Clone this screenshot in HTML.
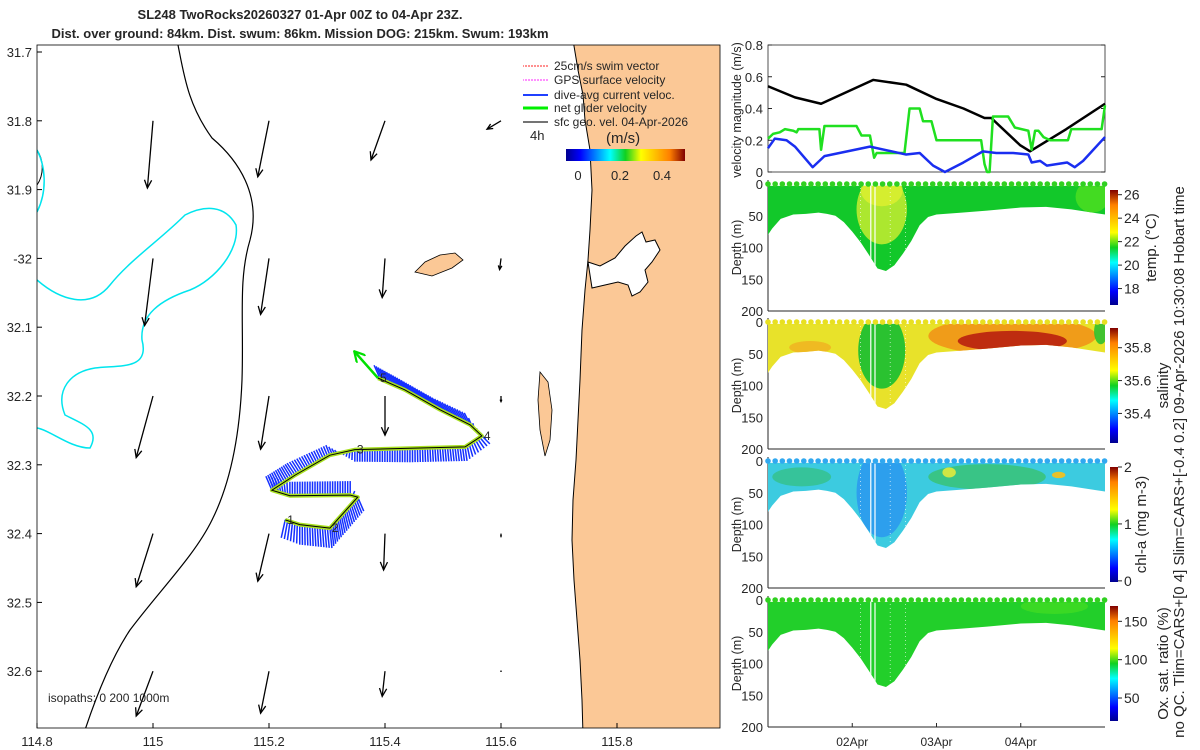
<!DOCTYPE html>
<html><head><meta charset="utf-8"><style>
html,body{margin:0;padding:0;background:#fff}
svg{display:block;font-family:"Liberation Sans",sans-serif}
text{fill:#262626}
</style></head><body>
<svg id="fig" width="1200" height="750" viewBox="0 0 1200 750" xmlns="http://www.w3.org/2000/svg">
<defs>
<linearGradient id="jetV" x1="0" y1="1" x2="0" y2="0">
<stop offset="0" stop-color="#00008f"/><stop offset="0.12" stop-color="#0000ff"/><stop offset="0.37" stop-color="#00ffff"/><stop offset="0.5" stop-color="#10d020"/><stop offset="0.63" stop-color="#ffff00"/><stop offset="0.87" stop-color="#ff8000"/><stop offset="1" stop-color="#800000"/>
</linearGradient>
<linearGradient id="jetH" x1="0" y1="0" x2="1" y2="0">
<stop offset="0" stop-color="#00008f"/><stop offset="0.12" stop-color="#0000ff"/><stop offset="0.37" stop-color="#00ffff"/><stop offset="0.5" stop-color="#10d020"/><stop offset="0.63" stop-color="#ffff00"/><stop offset="0.87" stop-color="#ff8000"/><stop offset="1" stop-color="#800000"/>
</linearGradient>
<clipPath id="mapclip"><rect x="37" y="45" width="683" height="683"/></clipPath>
<marker id="ahG" markerWidth="12" markerHeight="12" refX="10" refY="6" orient="auto" markerUnits="userSpaceOnUse"><path d="M0,0 L11,6 L0,12" fill="none" stroke="#00e000" stroke-width="2.2"/></marker>
</defs>

<text x="300" y="19" text-anchor="middle" font-size="13" font-weight="bold">SL248 TwoRocks20260327 01-Apr 00Z to 04-Apr 23Z.</text>
<text x="300" y="38" text-anchor="middle" font-size="13" font-weight="bold">Dist. over ground: 84km. Dist. swum: 86km. Mission DOG: 215km. Swum: 193km</text>

<g id="map">
<g clip-path="url(#mapclip)" id="mapinner">
<rect x="37" y="45" width="683" height="683" fill="#fff"/>
<polygon fill="#fbc896" stroke="#000" stroke-width="1" points="573,40 578,70 583,95 585,120 590,150 592,190 590,230 588,260 585,290 582,330 580,380 578,420 576,460 573,500 572,540 574,580 577,620 580,660 582,700 583,735 725,735 725,40"/>
<path fill="#fff" stroke="#000" stroke-width="1" d="M588,262 L600,266 L615,258 L625,246 L636,236 L642,232 L646,242 L655,240 L660,250 L652,262 L645,270 L648,282 L640,292 L632,296 L628,285 L618,282 L605,285 L592,288 Z"/>
<polygon fill="#fbc896" stroke="#000" stroke-width="0.8" points="415,272 425,262 440,255 455,253 463,260 452,268 432,276"/>
<polygon fill="#fbc896" stroke="#000" stroke-width="0.8" points="540,372 548,382 552,410 550,440 545,456 540,430 538,400"/>
<path fill="none" stroke="#000" stroke-width="1.2" d="M178,45 C184,75 188,105 212,138 C238,160 262,195 250,240 C238,280 244,320 242,380 C240,430 232,480 212,520 C195,555 160,590 130,630 C110,660 95,700 85,730"/>
<path fill="none" stroke="#000" stroke-width="1" d="M37,150 C44,160 44,175 37,185"/>
<path fill="none" stroke="#00e5ee" stroke-width="1.5" d="M37,150 C45,165 48,190 37,212"/>
<path fill="none" stroke="#00e5ee" stroke-width="1.5" d="M37,280 C60,300 90,310 110,285 C130,260 160,240 185,215 C205,205 225,205 236,225 C240,250 215,280 190,290 C160,300 140,315 142,340 C150,370 120,365 95,368 C70,372 55,390 65,415 C85,425 100,430 90,448 C70,448 50,430 37,428"/>
<g id="gridArrows"></g>
<g id="track"></g>
</g>
<rect x="37" y="45" width="683" height="683" fill="none" stroke="#000" stroke-width="0.8"/>
<g id="mapAxes"></g>
<g font-size="12">
<line x1="548" y1="66" x2="523" y2="66" stroke="#ff2020" stroke-width="1" stroke-dasharray="2,1"/>
<text x="554" y="70">25cm/s swim vector</text>
<line x1="548" y1="80" x2="523" y2="80" stroke="#ff20ff" stroke-width="1" stroke-dasharray="2,1"/>
<text x="554" y="84">GPS surface velocity</text>
<line x1="548" y1="95" x2="523" y2="95" stroke="#2040ff" stroke-width="2"/>
<text x="554" y="99">dive-avg current veloc.</text>
<line x1="548" y1="108" x2="523" y2="108" stroke="#00f000" stroke-width="3"/>
<text x="554" y="112">net glider velocity</text>
<line x1="548" y1="122" x2="523" y2="122" stroke="#202020" stroke-width="1.3"/>
<text x="554" y="126">sfc geo. vel. 04-Apr-2026</text>
<text x="530" y="140" font-size="13">4h</text>
<text x="606" y="143" font-size="15">(m/s)</text>
<rect x="566" y="149" width="119" height="12" fill="url(#jetH)"/>
<text x="578" y="180" font-size="13" text-anchor="middle">0</text>
<text x="620" y="180" font-size="13" text-anchor="middle">0.2</text>
<text x="662" y="180" font-size="13" text-anchor="middle">0.4</text>
</g>
<text x="48" y="702" font-size="12">isopaths: 0   200  1000m</text>
</g>

<g id="right"></g>
<text transform="translate(1184,462) rotate(-90)" text-anchor="middle" font-size="15">no QC. Tlim=CARS+[0 4] Slim=CARS+[-0.4 0.2] 09-Apr-2026 10:30:08 Hobart time</text>
</svg>
<script>
const NS="http://www.w3.org/2000/svg";
// ---- data ----
const latTicks=[31.7,31.8,31.9,32.0,32.1,32.2,32.3,32.4,32.5,32.6];
const latLabels=["31.7","31.8","31.9","-32","32.1","32.2","32.3","32.4","32.5","32.6"];
const lonTicks=[114.8,115.0,115.2,115.4,115.6,115.8];
const lonLabels=["114.8","115","115.2","115.4","115.6","115.8"];
const gridLon=[115.0,115.2,115.4,115.6];
const gridLat=[31.8,32.0,32.2,32.4,32.6];
const gridU=[[-0.02,-0.04,-0.05,-0.05],[-0.03,-0.03,-0.01,-0.005],[-0.06,-0.03,0,0],[-0.06,-0.04,-0.005,0],[-0.06,-0.03,-0.01,0]];
const gridV=[[-0.24,-0.2,-0.14,-0.03],[-0.24,-0.2,-0.14,-0.04],[-0.22,-0.19,-0.14,-0.02],[-0.19,-0.17,-0.13,-0.01],[-0.16,-0.15,-0.09,0]];
const trackLon=[115.228,115.253,115.305,115.353,115.340,115.236,115.205,115.245,115.305,115.348,115.443,115.538,115.567,115.547,115.495,115.434,115.388];
const trackLat=[32.380,32.387,32.392,32.347,32.344,32.345,32.337,32.315,32.286,32.278,32.276,32.274,32.258,32.242,32.220,32.191,32.174];
const curU=[-4,0,2,6,0,0,-6,-8,-4,0,0,2,8,-6,-8,-8,-6];
const curV=[18,20,20,14,-14,-14,-14,-12,-10,12,14,14,8,-12,-12,-12,-14];
const netLon=[115.388,115.348];
const netLat=[32.174,32.136];
const diveLabels=["1","2","3","4","5"];
const diveIdx=[0,2,9,12,16];

const velT_black=[0,0.32,0.63,1.25,1.64,2.0,2.32,2.57,2.65,2.99,3.11,3.54,4.0];
const vel_black=[0.54,0.47,0.43,0.58,0.55,0.46,0.40,0.34,0.34,0.17,0.13,0.27,0.43];
const velT_green=[0,0.06,0.14,0.2,0.3,0.34,0.36,0.61,0.63,0.67,1.05,1.11,1.21,1.26,1.29,1.62,1.68,1.8,1.84,1.94,2.0,2.53,2.57,2.6,2.63,2.67,2.85,2.93,3.09,3.13,3.17,3.21,3.27,3.35,3.56,3.6,3.96,4.0];
const vel_green=[0.21,0.24,0.25,0.27,0.26,0.25,0.27,0.27,0.14,0.29,0.29,0.23,0.23,0.09,0.12,0.12,0.40,0.40,0.32,0.32,0.20,0.20,0.05,0.0,0.0,0.35,0.35,0.28,0.26,0.14,0.26,0.26,0.22,0.20,0.20,0.27,0.27,0.42];
const velT_blue=[0,0.08,0.22,0.32,0.53,0.67,1.21,1.64,1.8,1.96,2.1,2.32,2.55,2.71,2.91,3.09,3.13,3.23,3.31,3.55,3.64,3.74,4.0];
const vel_blue=[0.15,0.21,0.20,0.16,0.03,0.10,0.16,0.11,0.12,0.04,0.0,0.06,0.13,0.12,0.12,0.11,0.06,0.07,0.04,0.06,0.03,0.07,0.22];
const velTicks=[0,0.2,0.4,0.6,0.8];
const dateTicks=[1,2,3];
const dateLabels=["02Apr","03Apr","04Apr"];
const depthTicks=[0,50,100,150,200];
const profT=[0,0.05,0.15,0.3,0.45,0.6,0.7,0.8,0.9,1.0,1.1,1.2,1.3,1.4,1.5,1.6,1.7,1.8,1.9,2.0,2.3,2.6,3.0,3.3,3.6,3.9,4.0];
const profD=[80,70,55,48,47,45,47,50,60,75,92,112,133,137,128,110,90,65,52,48,45,42,37,36,40,46,48];
const tempTicks=[18,20,22,24,26], tempRange=[16.6,26.4];
const salTicks=[35.4,35.6,35.8], salRange=[35.22,35.92];
const chlTicks=[0,1,2], chlRange=[-0.02,2.0];
const oxTicks=[50,100,150], oxRange=[20,170];

// ---- helpers ----
function mk(tag,attrs,parent){const e=document.createElementNS(NS,tag);for(const k in attrs)e.setAttribute(k,attrs[k]);parent.appendChild(e);return e;}
const lx=lon=>37+(lon-114.8)*580;
const ly=lat=>52+(lat-31.7)*688;
const ma=document.getElementById('mapAxes');
latTicks.forEach((v,i)=>{const y=ly(v);
 const t=mk('line',{x1:37,x2:42,y1:y,y2:y,stroke:'#000'},ma);
 const l=mk('text',{x:32,y:y+5,'text-anchor':'end','font-size':13},ma);l.textContent=latLabels[i];});
lonTicks.forEach((v,i)=>{const x=lx(v);
 const t=mk('line',{x1:x,x2:x,y1:728,y2:723,stroke:'#000'},ma);
 const l=mk('text',{x:x,y:746,'text-anchor':'middle','font-size':13},ma);l.textContent=lonLabels[i];});
// grid arrows with manual heads
const ga=document.getElementById('gridArrows');
gridLat.forEach((la,i)=>gridLon.forEach((lo,j)=>{const x=lx(lo),y=ly(la);const s=280;
 const dx=gridU[i][j]*s,dy=-gridV[i][j]*s;const L=Math.hypot(dx,dy);
 const g=mk('g',{},ga);
 if(L<0.5){mk('circle',{cx:x,cy:y,r:0.8,fill:'#000'},g);return;}
 const x2=x+dx,y2=y+dy;const ux=dx/L,uy=dy/L;const h=Math.min(8,L*0.35);
 mk('line',{x1:x,y1:y,x2:x2,y2:y2,stroke:'#000','stroke-width':1.3},g);
 mk('polyline',{points:`${x2-h*ux+h*0.45*uy},${y2-h*uy-h*0.45*ux} ${x2},${y2} ${x2-h*ux-h*0.45*uy},${y2-h*uy+h*0.45*ux}`,fill:'none',stroke:'#000','stroke-width':1.3},g);}));
// track
const tr=document.getElementById('track');
for(let i=0;i<trackLon.length-1;i++){const x0=lx(trackLon[i]),y0=ly(trackLat[i]),x1=lx(trackLon[i+1]),y1=ly(trackLat[i+1]);
 const n=Math.max(2,Math.round(Math.hypot(x1-x0,y1-y0)/2.5));
 for(let k=0;k<n;k++){const f=k/n;const x=x0+(x1-x0)*f,y=y0+(y1-y0)*f;const u=curU[i]+(curU[i+1]-curU[i])*f,v=curV[i]+(curV[i+1]-curV[i])*f;
  const b=mk('line',{x1:x,y1:y,x2:x+u,y2:y+v,stroke:'#1530ff','stroke-width':1.5},tr);}}
const pts=trackLon.map((lo,i)=>lx(lo)+','+ly(trackLat[i])).join(' ');
const tc=mk('polyline',{points:pts,fill:'none',stroke:'#a8e020','stroke-width':4,'stroke-linejoin':'round'},tr);
const tk=mk('polyline',{points:pts,fill:'none',stroke:'#000','stroke-width':1},tr);
const na=mk('line',{x1:lx(netLon[0]),y1:ly(netLat[0]),x2:lx(netLon[1]),y2:ly(netLat[1]),stroke:'#00e000','stroke-width':2.5,'marker-end':'url(#ahG)'},tr);
diveIdx.forEach((id,i)=>{const t=mk('text',{x:lx(trackLon[id])+2,y:ly(trackLat[id])+4,'font-size':12},tr);t.textContent=diveLabels[i];});

// ---- right panels ----
const R=document.getElementById('right');
const X0=768,X1=1105;const tx=t=>X0+t*(X1-X0)/4;
const vy=v=>172-v/0.8*127;
const va=mk('rect',{x:X0,y:45,width:X1-X0,height:127,fill:'#fff',stroke:'#262626','stroke-width':0.8},R);
velTicks.forEach(v=>{const y=vy(v);mk('line',{x1:X0,x2:X0+4,y1:y,y2:y,stroke:'#262626'},R);mk('line',{x1:X1,x2:X1-4,y1:y,y2:y,stroke:'#262626'},R);
 const l=mk('text',{x:X0-5,y:y+5,'text-anchor':'end','font-size':13},R);l.textContent=(v===0?'0':v.toFixed(1));});
const vl=mk('text',{transform:'translate(741,110) rotate(-90)','text-anchor':'middle','font-size':12.5},R);vl.textContent='velocity magnitude (m/s)';
[[velT_black,vel_black,'#000','black-line-sfc-geo'],[velT_green,vel_green,'#20e020','green-line-net-velocity'],[velT_blue,vel_blue,'#1a2ef0','blue-line-dive-avg-current']].forEach(s=>{
 const p=mk('polyline',{points:s[0].map((t,i)=>tx(t)+','+vy(s[1][i])).join(' '),fill:'none',stroke:s[2],'stroke-width':2.5,'stroke-linejoin':'round'},R);
 });

const panels=[
 {top:184,name:'temperature',base:'#12c82a',dot:'#30d020',ticks:tempTicks,range:tempRange,label:'temp. (°C)',lx:1156,
  over:[{t:1.35,d:40,rx:0.3,ry:55,c:'#c8ec30',o:0.85},{t:1.35,d:10,rx:0.25,ry:25,c:'#e0f030',o:0.8},{t:3.85,d:20,rx:0.2,ry:25,c:'#50e020',o:0.8}]},
 {top:322,name:'salinity',base:'#e8e22a',dot:'#e8e020',ticks:salTicks,range:salRange,label:'salinity',lx:1168,
  over:[{t:1.35,d:45,rx:0.28,ry:60,c:'#20c030',o:0.95},{t:2.9,d:22,rx:1.0,ry:30,c:'#f09818',o:0.95},{t:2.9,d:30,rx:0.65,ry:16,c:'#b82010',o:0.9},{t:0.5,d:40,rx:0.25,ry:10,c:'#f0b020',o:0.8},{t:3.95,d:15,rx:0.08,ry:20,c:'#30c030',o:0.9}]},
 {top:461,name:'chlorophyll',base:'#3ccbe0',dot:'#30a8f0',ticks:chlTicks,range:chlRange,label:'chl-a (mg m-3)',lx:1146,
  over:[{t:1.35,d:50,rx:0.3,ry:70,c:'#2a98ee',o:0.85},{t:0.4,d:25,rx:0.35,ry:15,c:'#34c088',o:0.8},{t:2.6,d:25,rx:0.7,ry:20,c:'#38c060',o:0.7},{t:2.15,d:18,rx:0.08,ry:8,c:'#d8e840',o:0.95},{t:3.45,d:22,rx:0.08,ry:5,c:'#f0c020',o:0.95}]},
 {top:600,name:'oxygen',base:'#22cf2a',dot:'#30d020',ticks:oxTicks,range:oxRange,label:'Ox. sat. ratio (%)',lx:1168,
  over:[{t:3.4,d:10,rx:0.4,ry:12,c:'#44dd22',o:0.7}]}
];
panels.forEach((P,pi)=>{
 const dy=d=>P.top+d*127/200;
 const g=mk('g',{},R);
 mk('line',{x1:X0,x2:X0,y1:P.top-4,y2:dy(200),stroke:'#262626'},g);
 mk('line',{x1:X0,x2:X1,y1:dy(200),y2:dy(200),stroke:'#262626'},g);
 depthTicks.forEach(d=>{const l=mk('text',{x:X0-5,y:dy(d)+5,'text-anchor':'end','font-size':13},g);l.textContent=d;});
 const dl=mk('text',{transform:`translate(741,${dy(100)}) rotate(-90)`,'text-anchor':'middle','font-size':12.5},g);dl.textContent='Depth (m)';
 const poly=tx(0)+','+dy(3)+' '+profT.map((t,i)=>tx(t)+','+dy(profD[i])).join(' ')+' '+tx(4)+','+dy(3);
 const cp=mk('clipPath',{id:'cp'+pi},g);mk('polygon',{points:poly},cp);
 const s=mk('polygon',{points:poly,fill:P.base},g);
 const og=mk('g',{'clip-path':`url(#cp${pi})`},g);
 P.over.forEach(o=>mk('ellipse',{cx:tx(o.t),cy:dy(o.d),rx:o.rx*84,ry:o.ry*127/200,fill:o.c,'fill-opacity':o.o},og));
 [1.22,1.27,1.1,1.45,1.63].forEach((t,k)=>mk('line',{x1:tx(t),x2:tx(t),y1:dy(0),y2:dy(140),stroke:'#fff','stroke-width':k<2?1.2:0.6,'stroke-dasharray':k<2?'':'1,3'},og));
 for(let t=0;t<=4.001;t+=0.085){mk('circle',{cx:tx(t),cy:dy(0),r:2.8,fill:P.dot},g);}
 const cb0=P.top+6,cb1=P.top+121;
 const cb=mk('rect',{x:1110,y:cb0,width:8,height:cb1-cb0,fill:'url(#jetV)'},g);
 P.ticks.forEach(v=>{const y=cb1-(v-P.range[0])/(P.range[1]-P.range[0])*(cb1-cb0);
  mk('line',{x1:1118,x2:1122,y1:y,y2:y,stroke:'#262626'},g);
  const l=mk('text',{x:1124,y:y+5,'font-size':14},g);l.textContent=v;});
 const cl=mk('text',{transform:`translate(${P.lx},${(cb0+cb1)/2}) rotate(-90)`,'text-anchor':'middle','font-size':15},g);cl.textContent=P.label;
});
dateTicks.forEach((d,i)=>{const x=tx(d);mk('line',{x1:x,x2:x,y1:727,y2:723,stroke:'#262626'},R);
 const l=mk('text',{x:x,y:746,'text-anchor':'middle','font-size':12},R);l.textContent=dateLabels[i];});
</script>
</body></html>
